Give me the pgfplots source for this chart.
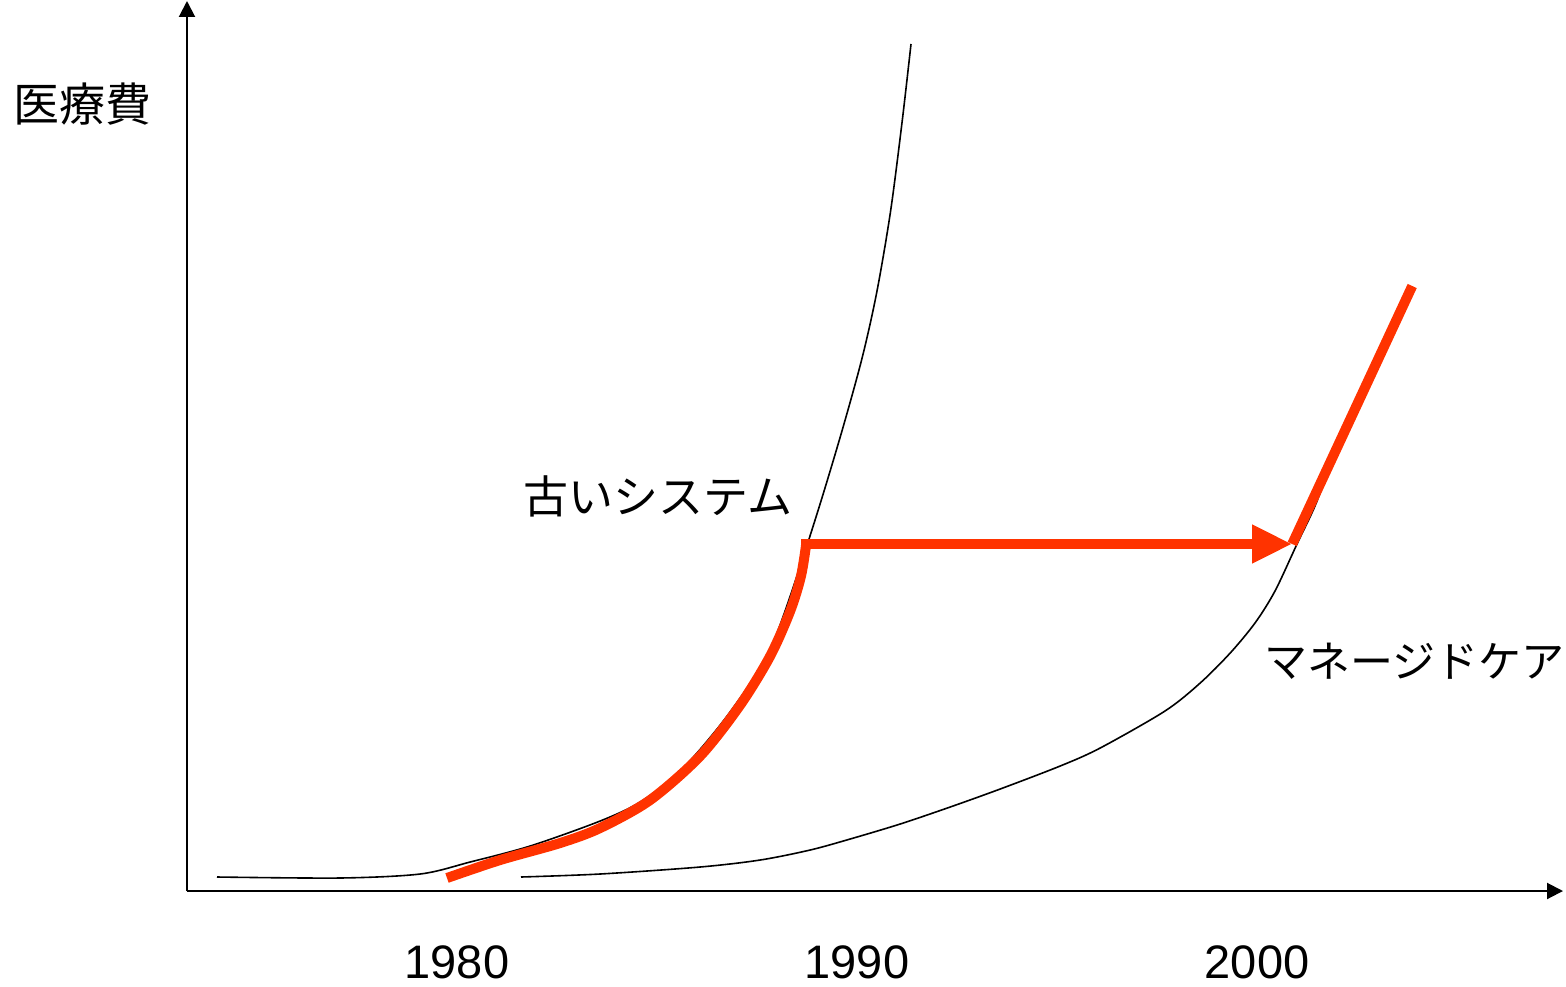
\documentclass[border=0pt]{standalone}
\usepackage{pgfplots}
\pgfplotsset{compat=1.18}
\usepackage{fontspec}
\setmainfont{Liberation Sans}
\newfontfamily\jp{Noto Sans CJK JP}
\usetikzlibrary{arrows.meta}
\definecolor{flame}{RGB}{255,51,0}

\begin{document}
\begin{tikzpicture}
\begin{axis}[
  scale only axis,
  width=688pt, height=445pt,
  xmin=1973.25, xmax=2007.65,
  ymin=0, ymax=890,
  axis lines=left,
  axis line style={line width=1pt, -{Triangle[length=8pt,width=8pt]}},
  xtick={1980,1990,2000},
  xticklabels={1980,1990,2000},
  ytick=\empty,
  major tick length=0pt,
  xticklabel style={font=\fontsize{23.5}{28}\selectfont, anchor=base, yshift=-43.5pt, inner sep=0pt},
  clip=false,
]
% old system: cost curve
\addplot[black, line width=0.8pt, smooth, tension=0.5] coordinates {
  (1974.00,14) (1977.08,13) (1979.08,17) (1980.33,29) (1981.83,45)
  (1983.58,70) (1984.58,89) (1985.58,120) (1986.58,166) (1987.45,215)
  (1987.95,253) (1988.50,315) (1989.10,390) (1989.66,465) (1990.14,535)
  (1990.50,600) (1990.84,680) (1991.13,770) (1991.35,847)
};
% managed care: cost curve
\addplot[black, line width=0.8pt, smooth, tension=0.5] coordinates {
  (1981.60,14) (1983.58,17) (1986.08,24) (1987.58,31) (1988.83,41)
  (1989.83,52) (1991.08,67) (1992.33,84) (1993.58,102) (1995.08,125)
  (1996.08,143) (1997.70,180) (1998.58,208) (1999.33,238) (1999.95,268)
  (2000.45,300) (2001.00,347) (2001.45,385) (2001.85,427) (2002.25,460)
};
% actual path: old system until the switch ...
\addplot[flame, line width=5pt, line cap=butt, smooth, tension=0.5] coordinates {
  (1979.75,13) (1981.08,31) (1982.58,48) (1983.58,63) (1984.83,91)
  (1986.08,135) (1987.08,186) (1987.83,235) (1988.33,280) (1988.60,315)
  (1988.73,347)
};
% ... then the shift to managed care
\addplot[flame, line width=5pt, line cap=butt,
  -{Triangle[length=20pt,width=18pt]}] coordinates {
  (1988.60,347) (2000.88,347)
};
\addplot[flame, line width=5pt, line cap=butt] coordinates {
  (2000.88,347) (2003.88,605)
};
\node[inner sep=0pt, font=\jp\fontsize{23}{28}\selectfont] at (axis cs:1970.65,787) {医療費};
\node[inner sep=0pt, font=\jp\fontsize{22.5}{28}\selectfont] at (axis cs:1985.03,395) {古いシステム};
\node[inner sep=0pt, font=\jp\fontsize{21.5}{28}\selectfont] at (axis cs:2003.93,230) {マネージドケア};
\coordinate (bl) at (axis cs:1968.575,-95);
\coordinate (tr) at (axis cs:2007.725,890);
\end{axis}
\path (bl) rectangle (tr);
\end{tikzpicture}
\end{document}
